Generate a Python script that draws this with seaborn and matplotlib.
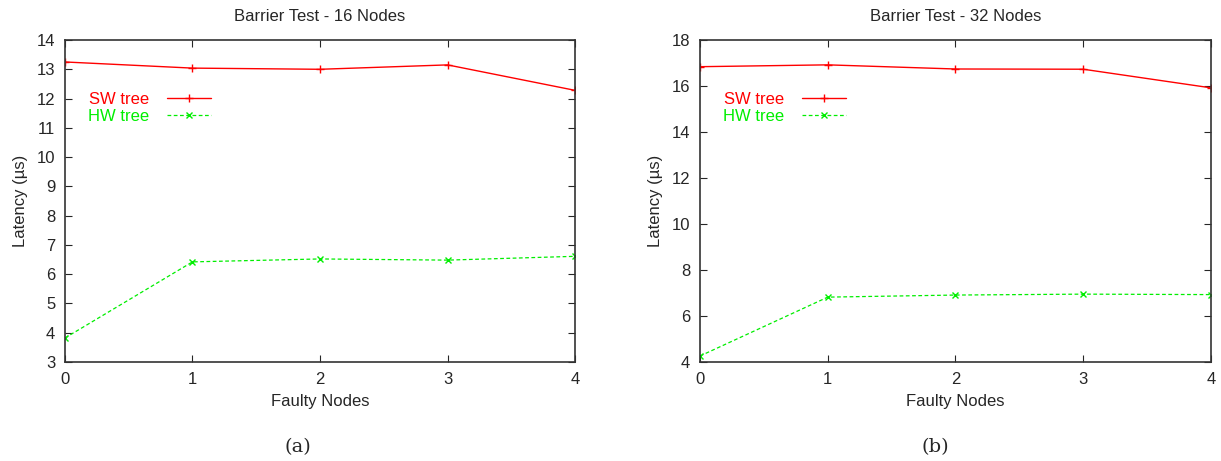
import matplotlib
matplotlib.use("Agg")
import matplotlib.pyplot as plt
import pandas as pd
import seaborn as sns

sns.set_style("ticks")
plt.rcParams['font.family'] = ['Liberation Sans', 'DejaVu Sans']

faulty = [0, 1, 2, 3, 4]
sw_16 = [13.25, 13.04, 13.0, 13.15, 12.28]
hw_16 = [3.82, 6.42, 6.52, 6.48, 6.61]
sw_32 = [16.84, 16.92, 16.74, 16.73, 15.92]
hw_32 = [4.26, 6.82, 6.91, 6.95, 6.93]

titles = ["Barrier Test - 16 Nodes", "Barrier Test - 32 Nodes"]
captions = ["(a)", "(b)"]
ylims = [(3, 14), (4, 18)]
yticks = [list(range(3, 15)), list(range(4, 19, 2))]

RED = "#ff0000"
GREEN = "#00ee00"

fig = plt.figure(figsize=(12.21, 4.61), dpi=100)
ax1 = fig.add_axes([0.0532, 0.2148, 0.4178, 0.6984])
ax2 = fig.add_axes([0.5733, 0.2148, 0.4185, 0.6984])

for i, (ax, sw, hw) in enumerate([(ax1, sw_16, hw_16), (ax2, sw_32, hw_32)]):
    df = pd.DataFrame({"Faulty Nodes": faulty * 2,
                       "Latency": sw + hw,
                       "series": ["SW tree"] * 5 + ["HW tree"] * 5})
    sns.lineplot(data=df[df.series == "SW tree"], x="Faulty Nodes", y="Latency",
                 ax=ax, color=RED, marker="+", markersize=6, linewidth=1,
                 label="SW tree", markeredgewidth=1, markeredgecolor=RED)
    sns.lineplot(data=df[df.series == "HW tree"], x="Faulty Nodes", y="Latency",
                 ax=ax, color=GREEN, marker="x", markersize=4.5, linewidth=0.9,
                 linestyle=(0, (3, 2)), label="HW tree", markeredgewidth=1,
                 markeredgecolor=GREEN)
    ax.set_xlim(0, 4)
    ax.set_ylim(*ylims[i])
    ax.set_xticks(faulty)
    ax.set_yticks(yticks[i])
    ax.tick_params(direction="in", top=True, right=True, labelsize=12,
                   length=5, width=0.8, pad=7)
    for s in ax.spines.values():
        s.set_linewidth(1.2)
        s.set_color("#333333")
    ax.set_title(titles[i], fontsize=12, pad=14)
    ax.set_xlabel("Faulty Nodes", fontsize=12, labelpad=5)
    ax.set_ylabel("Latency (\u00b5s)", fontsize=12, labelpad=6)
    leg = ax.legend(loc="upper left", bbox_to_anchor=(0.022, 0.875), frameon=False,
                    markerfirst=False, fontsize=12, handlelength=2.6,
                    handletextpad=1.1, labelspacing=0.1, borderpad=0.2)
    for t, c in zip(leg.get_texts(), [RED, GREEN]):
        t.set_color(c)

fig.text(0.2442, 0.03, captions[0], ha="center", va="center", fontsize=14,
         family="DejaVu Serif")
fig.text(0.7660, 0.03, captions[1], ha="center", va="center", fontsize=14,
         family="DejaVu Serif")

fig.savefig("out.png", dpi=100)
